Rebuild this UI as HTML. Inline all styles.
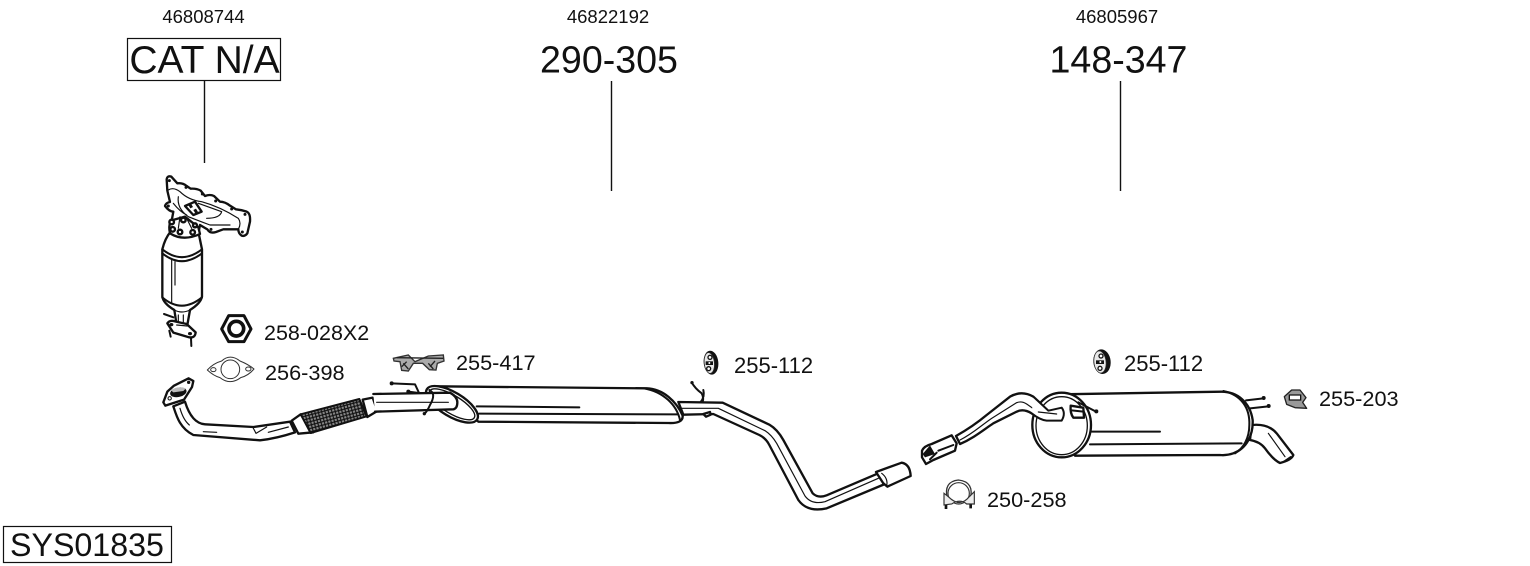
<!DOCTYPE html>
<html><head><meta charset="utf-8">
<style>
html,body{margin:0;padding:0;background:#fff;width:1530px;height:566px;overflow:hidden}
svg{display:block}
text{font-family:"Liberation Sans",Arial,sans-serif;fill:#111}
.p{fill:none;stroke:#111;stroke-width:6;stroke-linecap:round;stroke-linejoin:round}
.f{fill:#fff;stroke:#111;stroke-width:7;stroke-linejoin:round;stroke-linecap:round}
.t{fill:none;stroke:#111;stroke-width:3.500;stroke-linecap:round;stroke-linejoin:round}
.k{fill:#111;stroke:none}
</style></head><body>
<svg width="1530" height="566" viewBox="0 0 1530 566" xmlns="http://www.w3.org/2000/svg">
<defs>
<pattern id="mesh" width="14" height="14" patternUnits="userSpaceOnUse" patternTransform="rotate(30)">
<rect width="14" height="14" fill="#888"/>
<path d="M0 0L14 14M14 0L0 14" stroke="#111" stroke-width="3.500"/>
</pattern>
</defs>

<!-- labels -->
<text x="203.500" y="23" font-size="18.500" text-anchor="middle">46808744</text>
<text x="608" y="23" font-size="18.500" text-anchor="middle">46822192</text>
<text x="1117" y="23" font-size="18.500" text-anchor="middle">46805967</text>
<rect x="127.500" y="38.500" width="153" height="42" fill="none" stroke="#111" stroke-width="1.200"/>
<text x="204.500" y="73" font-size="39" text-anchor="middle">CAT N/A</text>
<text x="609" y="72.500" font-size="37.600" text-anchor="middle">290-305</text>
<text x="1118.500" y="72.500" font-size="37.600" text-anchor="middle">148-347</text>
<path d="M204.500 81V163M611.500 81V191M1120.500 81V191" stroke="#111" stroke-width="1.400" fill="none"/>
<rect x="3.500" y="526.500" width="168" height="36" fill="none" stroke="#111" stroke-width="1.200"/>
<text x="10" y="556" font-size="32.200">SYS01835</text>

<text x="264" y="340" font-size="21.500">258-028X2</text>
<text x="265" y="380" font-size="21.700">256-398</text>
<text x="456" y="370" font-size="21.700">255-417</text>
<text x="734" y="373" font-size="22">255-112</text>
<text x="1124" y="371" font-size="22">255-112</text>
<text x="1319" y="406" font-size="21.700">255-203</text>
<text x="987" y="507" font-size="21.700">250-258</text>

<!-- catalytic converter + manifold -->
<g transform="translate(130,170) scale(.33333)">
<path class="f" d="M110 28Q112 16 124 20L142 40Q158 38 170 48L182 56Q200 55 212 62L225 78Q240 72 252 78L270 95Q285 95 300 107L318 118Q335 120 350 125Q362 130 360 155L352 190Q345 200 335 197Q325 190 325 178L280 178L258 186Q240 192 232 178L210 165L205 190L120 180L130 125Q118 125 105 108Q108 98 120 96L112 62Z"/>
<path class="t" d="M115 60Q130 50 150 65Q175 90 215 95Q270 110 325 145Q335 160 325 178M145 80Q140 115 175 140Q200 150 240 165L300 165M205 100L275 125Q270 145 230 145M130 100Q150 125 170 135"/>
<path class="f" d="M165 108L195 95L215 125L190 135Z"/>
<path class="k" d="M175 105l8-4 6 10-8 4zM190 120l8-4 6 10-8 4z"/>
<circle class="k" cx="118" cy="32" r="4.500"/><circle class="k" cx="168" cy="52" r="4.500"/><circle class="k" cx="217" cy="72" r="4.500"/><circle class="k" cx="257" cy="93" r="4.500"/><circle class="k" cx="305" cy="117" r="4.500"/><circle class="k" cx="345" cy="133" r="4.500"/><circle class="k" cx="337" cy="186" r="4.500"/><circle class="k" cx="115" cy="108" r="4.500"/><circle class="k" cx="243" cy="178" r="4.500"/>
<path class="f" d="M97 238Q105 205 122 185L205 185L216 238L216 380Q212 400 180 420L172 465L140 465L133 420Q100 400 97 380Z"/>
<path class="f" d="M120 190Q115 170 122 152L165 140L205 172L210 192Q160 215 120 190Z"/>
<path class="t" d="M150 140L145 175M170 145L185 175"/>
<circle class="f" cx="125" cy="156" r="7"/><circle class="f" cx="128" cy="178" r="7"/><circle class="f" cx="150" cy="186" r="7"/><circle class="f" cx="188" cy="187" r="7"/><circle class="f" cx="195" cy="166" r="6"/><circle class="f" cx="160" cy="150" r="7"/>
<path class="p" d="M97 238Q155 285 216 238M97 250Q155 297 216 250M97 382Q155 432 216 382"/>
<path class="t" d="M125 270L125 400M135 275V345M133 420Q155 432 180 420M145 435V465M160 435V465"/>
<path class="f" d="M112 460Q120 448 138 455L170 462L197 487Q195 505 178 502L130 488Z"/>
<path class="t" d="M140 465L172 468"/>
<ellipse class="k" cx="124" cy="464" rx="6" ry="5"/><ellipse class="k" cx="180" cy="491" rx="6" ry="5"/>
<path class="p" d="M102 432L130 442M118 482L122 500M183 505L184 528"/>
<!-- nut -->
<path d="M275 477L296 437L342 437L363 477L342 515L296 515Z" fill="#fff" stroke="#111" stroke-width="9" stroke-linejoin="round"/>
<circle cx="319" cy="476" r="22" fill="#fff" stroke="#111" stroke-width="11"/>
</g>

<!-- gasket, front pipe -->
<g transform="translate(150,345) scale(.33333)">
<path fill="#fff" stroke="#333" stroke-width="3" stroke-linejoin="round" d="M172 75Q190 55 215 48Q240 25 270 48Q295 58 312 72Q295 92 272 98Q240 122 210 98Q190 92 172 75Z"/>
<circle cx="241" cy="73" r="28" fill="none" stroke="#333" stroke-width="3"/>
<ellipse cx="190" cy="74" rx="8" ry="6" fill="none" stroke="#333" stroke-width="3"/>
<ellipse cx="295" cy="72" rx="8" ry="6" fill="none" stroke="#333" stroke-width="3"/>
<!-- hanger 255-417 -->
<path fill="#aaa" stroke="#333" stroke-width="4" d="M730 40L775 30L795 50L835 33L880 30L882 48L862 55L858 75L838 74L818 55L790 55L775 78L755 76L750 50L732 48Z"/>
<path fill="none" stroke="#222" stroke-width="4" d="M740 38L880 40M760 55L775 72M835 55L850 72M755 65L770 50M840 65L855 48"/>
<!-- pipe -->
<path class="f" d="M70 184C80 215 90 250 130 270L330 286Q380 280 435 262L420 230L310 246L165 238Q125 235 105 170Z"/>
<path class="t" d="M90 190Q100 225 118 240M160 260L200 262M308 246L318 265L350 246M355 262L415 246"/>
<path class="f" d="M40 172L52 140L72 122L116 100L130 108L126 126L102 164L46 182Z"/>
<ellipse cx="85" cy="142" rx="25" ry="14" transform="rotate(-12 85 142)" fill="#111"/>
<path d="M62 135Q85 122 108 130L100 138L70 142Z" fill="#bbb"/>
<circle class="k" cx="116" cy="112" r="5"/><circle cx="59" cy="160" r="5" fill="#fff" stroke="#111" stroke-width="3"/>
<path class="f" d="M425 227L452 208L490 262L445 266Z"/>
<path d="M452 208L628 162L650 214L482 264Z" fill="url(#mesh)" stroke="#111" stroke-width="6" stroke-linejoin="round"/>
<path class="f" d="M638 164L668 158L682 198L652 216Z"/>
<!-- wires -->
<path class="p" d="M725 115L795 118L810 150M775 140L838 148" stroke-width="5"/>
<circle class="k" cx="725" cy="115" r="6"/><circle class="k" cx="775" cy="140" r="6"/>
</g>

<!-- middle silencer -->
<g transform="translate(420,345) scale(.33333)">
<path class="f" d="M50 124L680 130C730 132 770 170 788 212Q790 236 745 234L175 230Z" stroke-width="6"/>
<path class="p" d="M170 184L478 187M178 206L772 208M672 130C730 140 770 180 780 225" stroke-width="5"/>
<ellipse cx="96" cy="178" rx="88" ry="36" transform="rotate(31 96 178)" fill="#fff" stroke="#111" stroke-width="7"/>
<ellipse cx="96" cy="178" rx="78" ry="27" transform="rotate(31 96 178)" fill="#fff" stroke="#111" stroke-width="4"/>
<path class="f" d="M-140 147L90 143Q112 155 112 172Q112 190 100 193L-135 200"/>
<path class="t" d="M-130 172L85 172"/>
<path class="p" d="M28 135Q50 145 30 180Q22 198 15 205" stroke-width="6"/>
<circle class="k" cx="13" cy="206" r="5"/>
<!-- bracket at tail side -->
<path class="p" d="M815 112Q825 130 845 145Q852 158 848 170" stroke-width="5.500"/>
<circle class="k" cx="816" cy="113" r="5"/>
<!-- hanger icon -->
<ellipse cx="873" cy="53" rx="22" ry="36" transform="rotate(-6 873 53)" fill="#111"/>
<ellipse cx="868" cy="54" rx="15" ry="31" transform="rotate(-6 868 54)" fill="#e8e8e8" stroke="#333" stroke-width="2"/>
<circle cx="870" cy="37" r="6" fill="#fff" stroke="#111" stroke-width="4"/>
<circle cx="866" cy="71" r="6" fill="#fff" stroke="#111" stroke-width="4"/>
<path class="k" d="M857 49h22v11h-22z"/><circle cx="868" cy="54" r="3" fill="#fff"/>
</g>

<!-- tail pipe of middle section -->
<g transform="translate(670,390) scale(.33333)">
<path class="f" d="M25 36L158 38L298 104Q322 118 340 150L428 310Q445 326 470 316L625 250L645 282L470 355Q412 368 385 330L298 165Q288 145 268 135L130 72L40 74Z"/>
<path class="t" d="M30 55L145 55L285 122Q305 135 320 160L405 318Q425 345 465 335L625 265"/>
<path class="f" d="M618 246L695 218Q720 222 722 258L652 290L640 280Z"/>
<path class="t" d="M635 250Q655 265 650 288"/>
<path class="f" d="M100 72L120 66L122 74L108 80Z"/>
<path class="p" d="M100 0Q105 20 92 36" stroke-width="5.500"/>
</g>

<!-- rear inlet pipe, clamp -->
<g transform="translate(910,380) scale(.33333)">
<path class="f" d="M138 168C170 150 200 130 230 105L300 50Q335 30 370 50L415 92L455 83Q468 100 455 122L410 122Q390 120 365 100Q340 85 320 95L250 130C220 150 190 175 150 192Z"/>
<path class="t" d="M150 180C190 160 215 135 245 115L320 68Q335 62 350 72L390 100L440 102"/>
<path class="f" d="M36 212Q42 198 65 192L125 166L140 190L135 212L70 240L48 252L36 232Z"/>
<path class="k" d="M38 222L60 196L75 222L45 232Z"/>
<path class="p" d="M85 212L130 195M60 238L80 218" stroke-width="5"/>
<!-- clamp -->
<path fill="none" stroke="#333" stroke-width="4" d="M112 355Q100 305 145 300Q195 305 180 360"/>
<circle cx="146" cy="340" r="32" fill="none" stroke="#333" stroke-width="3.500"/>
<path fill="#eee" stroke="#333" stroke-width="3.500" d="M102 340L102 375L125 372Q150 355 170 372L193 372L193 335L178 350Q150 385 115 350Z"/>
<path class="k" d="M104 375h8v12h-8zM178 373h8v12h-8z"/>
</g>

<!-- rear silencer -->
<g transform="translate(1020,345) scale(.33333)">
<path class="f" d="M695 240Q745 235 770 265L820 330Q815 345 780 354Q760 345 735 310Q720 290 690 285Z"/>
<path class="t" d="M745 265L795 335M790 350L812 335"/>
<path class="f" d="M125 148L605 140C650 140 690 170 698 225C700 270 680 310 640 325Q620 332 600 330L165 332Z" stroke-width="6"/>
<path class="p" d="M215 260L420 260M210 298L665 295" stroke-width="5"/>
<path class="p" d="M610 138C665 150 690 190 688 240C688 280 670 310 645 325" stroke-width="5"/>
<ellipse cx="125" cy="240" rx="88" ry="97" fill="#fff" stroke="#111" stroke-width="7"/>
<ellipse cx="125" cy="242" rx="77" ry="87" fill="none" stroke="#111" stroke-width="4"/>
<path class="f" d="M152 182L190 188L192 218L160 218Q150 205 152 182Z"/>
<path class="p" d="M155 196L190 200" stroke-width="4"/>
<path class="p" d="M175 172L228 200" stroke-width="4"/>
<circle class="k" cx="229" cy="199" r="6"/>
<path class="p" d="M678 166L730 160M690 190L745 184" stroke-width="5"/>
<circle class="k" cx="731" cy="159" r="6"/><circle class="k" cx="746" cy="183" r="6"/>
<!-- hanger -->
<ellipse cx="246" cy="50" rx="26" ry="37" transform="rotate(-6 246 50)" fill="#111"/>
<ellipse cx="240" cy="51" rx="18" ry="33" transform="rotate(-6 240 51)" fill="#e8e8e8" stroke="#333" stroke-width="2"/>
<circle cx="243" cy="33" r="6" fill="#fff" stroke="#111" stroke-width="4"/>
<circle cx="240" cy="70" r="6" fill="#fff" stroke="#111" stroke-width="4"/>
<path class="k" d="M228 46h24v11h-24z"/><circle cx="241" cy="51" r="3" fill="#fff"/>
<!-- 255-203 -->
<path fill="#999" stroke="#222" stroke-width="4" stroke-linejoin="round" d="M793 155L815 135L840 135L858 158L848 172L860 190L825 188L800 178Z"/>
<path fill="#fff" stroke="#111" stroke-width="4" d="M808 150L842 150L842 165L808 165Z"/>
</g>

<!-- rear inlet pipe end on top of silencer ring -->
<g transform="translate(910,380) scale(.33333)">
<path class="f" d="M370 50L415 92L455 83Q468 100 455 122L410 122Q390 120 365 100Z" stroke="none" style="stroke:none"/>
<path class="p" d="M370 50L415 92L455 83Q468 100 455 122L410 122Q390 120 365 100" stroke-width="7"/>
<path class="t" d="M385 96L440 102"/>
</g>
</svg>
</body></html>
